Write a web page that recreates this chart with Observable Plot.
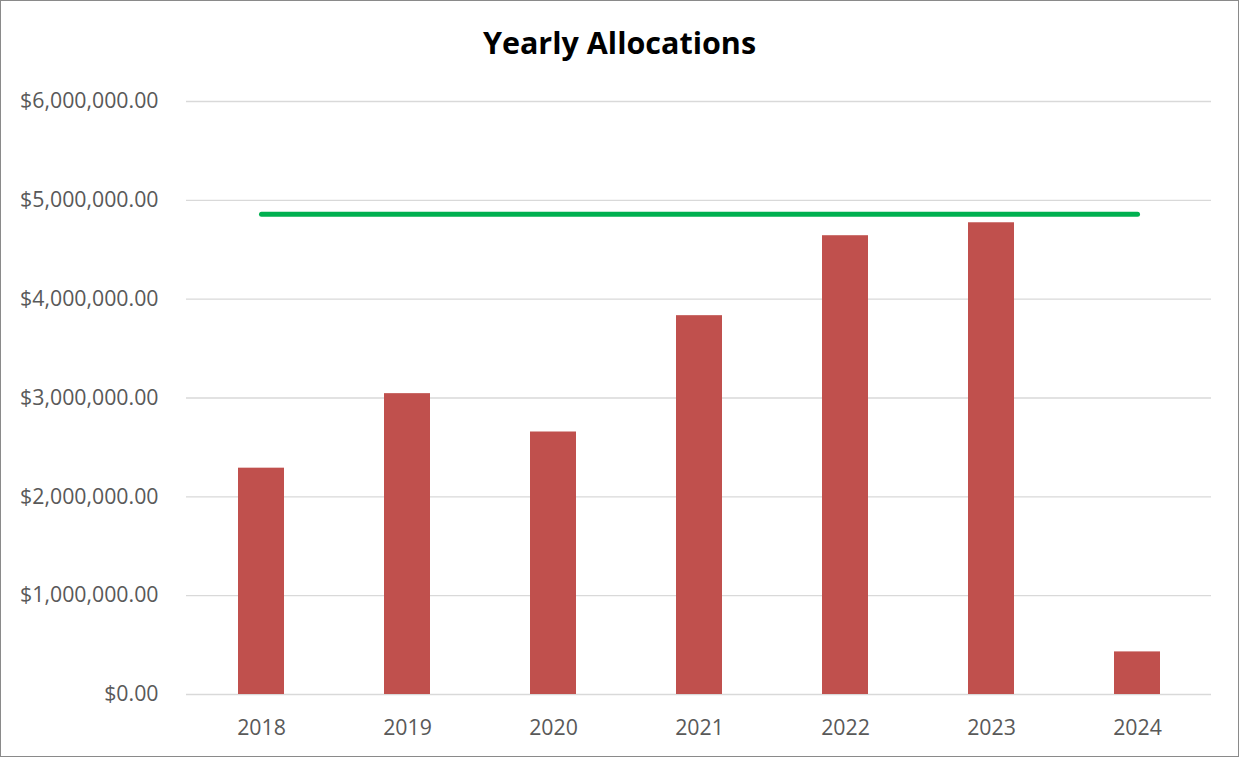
<!DOCTYPE html>
<html>
<head>
<meta charset="utf-8">
<script src="https://cdn.jsdelivr.net/npm/d3@7"></script>
<script src="https://cdn.jsdelivr.net/npm/@observablehq/plot@0.6"></script>
<style>
  body { margin: 0; background: #fff; }
  #wrap { position: relative; width: 1239px; height: 757px; background: #fff; overflow: hidden; }
  #title { position: absolute; top: 27px; left: 0; width: 1239px; text-align: center;
           font-family: "Open Sans", sans-serif; font-weight: bold; font-size: 30.5px; line-height: 30px; color: #000; }
  #chart { position: absolute; top: 70px; left: 0; }
  #frame { position: absolute; left: 0; top: 0; width: 1237px; height: 755px; border: 1px solid #8a8a8a; pointer-events: none; }
</style>
</head>
<body>
<div id="wrap">
  <div id="title">Yearly Allocations</div>
  <div id="chart"></div>
  <div id="frame"></div>
</div>
<script>
const years = ["2018", "2019", "2020", "2021", "2022", "2023", "2024"];
const allocations = [2290000, 3044000, 2656000, 3833000, 4642000, 4773000, 431000];
const targetYears = ["2018", "2024"];
const targetValue = 4860000;
const yTicks = [0, 1000000, 2000000, 3000000, 4000000, 5000000, 6000000];

const bars = years.map((year, i) => ({year, value: allocations[i]}));
const target = targetYears.map(year => ({year, value: targetValue}));
const money = d => "$" + d3.format(",.2f")(d);

const chart = Plot.plot({
  width: 1239,
  height: 686,
  marginTop: 31,
  marginBottom: 62,
  marginLeft: 186,
  marginRight: 28,
  style: {fontFamily: "'Open Sans', sans-serif", fontSize: "21.3px", color: "#595959", background: "transparent"},
  x: {domain: years, paddingInner: 0.686, paddingOuter: 0.343},
  y: {domain: [0, 6000000]},
  marks: [
    Plot.gridY(yTicks, {stroke: "#d9d9d9", strokeOpacity: 1, strokeWidth: 1.3}),
    Plot.barY(bars, {x: "year", y: "value", fill: "#c0504d"}),
    Plot.lineY(target, {x: "year", y: "value", stroke: "#00b050", strokeWidth: 5, strokeLinecap: "round"}),
    Plot.axisY(yTicks, {tickSize: 0, tickPadding: 28, tickFormat: money, label: null}),
    Plot.axisX({tickSize: 0, tickPadding: 25, label: null})
  ]
});
document.getElementById("chart").appendChild(chart);
</script>
</body>
</html>
